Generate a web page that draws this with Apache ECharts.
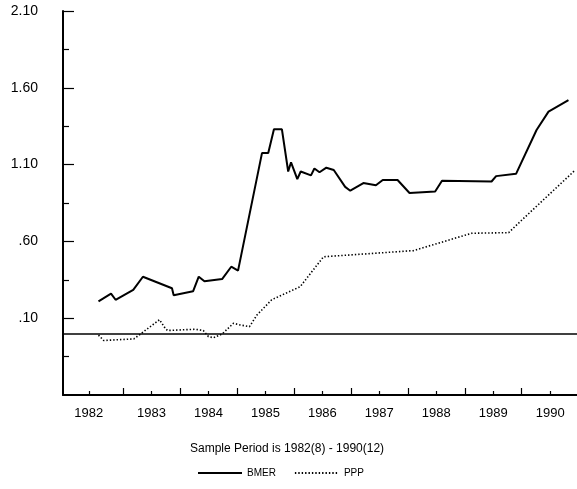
<!DOCTYPE html>
<html>
<head>
<meta charset="utf-8">
<script src="https://cdn.jsdelivr.net/npm/echarts@6/dist/echarts.min.js"></script>
<style>
  html, body { margin: 0; padding: 0; background: #fff; }
  #chart { width: 577px; height: 489px; }
</style>
</head>
<body>
<div id="chart"></div>
<script>
// BMER, decimal year / value
const bmerYears = [1982.57, 1982.79, 1982.87, 1983.18, 1983.35, 1983.86, 1983.89, 1984.23, 1984.33, 1984.43,
  1984.74, 1984.90, 1985.02, 1985.44, 1985.55, 1985.65, 1985.79, 1985.90, 1985.95, 1986.06,
  1986.12, 1986.30, 1986.36, 1986.45, 1986.57, 1986.70, 1986.90, 1986.99, 1987.22, 1987.44,
  1987.56, 1987.82, 1988.03, 1988.48, 1988.60, 1989.47, 1989.55, 1989.90, 1990.26, 1990.47, 1990.82]
const bmerValues = [0.21, 0.26, 0.22, 0.285, 0.37, 0.295, 0.25, 0.275, 0.37, 0.34,
  0.355, 0.435, 0.41, 1.175, 1.175, 1.33, 1.33, 1.055, 1.115, 1.005,
  1.055, 1.03, 1.075, 1.05, 1.08, 1.065, 0.955, 0.93, 0.98, 0.965,
  1.0, 1.0, 0.915, 0.925, 0.995, 0.99, 1.025, 1.04, 1.325, 1.445, 1.52]

// PPP
const pppYears = [1982.57, 1982.66, 1983.19, 1983.30, 1983.64, 1983.74, 1983.78, 1984.27, 1984.41, 1984.50,
  1984.59, 1984.74, 1984.94, 1985.06, 1985.22, 1985.35, 1985.61, 1986.11, 1986.52, 1988.10,
  1989.12, 1989.77, 1989.97, 1990.94]
const pppValues = [-0.01, -0.045, -0.035, -0.005, 0.09, 0.035, 0.02, 0.028, 0.02, -0.02,
  -0.027, -0.003, 0.067, 0.056, 0.045, 0.12, 0.22, 0.305, 0.5, 0.54,
  0.653, 0.657, 0.728, 1.065]

// tick positions
const yMajor = [0.1, 0.6, 1.1, 1.6, 2.1]
const yMinor = [-0.15, 0.35, 0.85, 1.35, 1.85]
const xMajor = [1983, 1984, 1985, 1986, 1987, 1988, 1989, 1990]
const xLabelPos = [1982.4, 1983.5, 1984.5, 1985.5, 1986.5, 1987.5, 1988.5, 1989.5, 1990.5]

const font = "'Liberation Sans', Arial, sans-serif"

const myChart = echarts.init(document.getElementById('chart'))

const zip = (xs, ys) => xs.map((x, i) => [x, ys[i]])

myChart.setOption({
  animation: false,
  backgroundColor: '#fff',
  grid: {
    left: 63,
    right: 0,
    top: 11,
    bottom: 94
  },
  legend: {
    left: 192,
    top: 463,
    itemWidth: 44,
    itemHeight: 10,
    itemGap: 18,
    itemStyle: { color: 'transparent', borderColor: 'transparent', borderWidth: 0 },
    textStyle: { color: '#000', fontSize: 10, fontFamily: font },
    data: ['BMER', 'PPP']
  },
  graphic: [{
    type: 'text',
    left: 190,
    top: 443,
    style: {
      text: 'Sample Period is 1982(8) - 1990(12)',
      fill: '#000',
      font: '12px ' + font
    }
  }],
  xAxis: [{
    type: 'value',
    min: 1981.947,
    max: 1990.97,
    axisLine: { show: true, onZero: false, lineStyle: { color: '#000', width: 2 } },
    axisTick: {
      show: true,
      inside: true,
      length: 7,
      customValues: xMajor,
      lineStyle: { color: '#000', width: 1.2 }
    },
    axisLabel: {
      show: true,
      margin: 12,
      color: '#000',
      fontSize: 13,
      fontFamily: font,
      customValues: xLabelPos,
      formatter: function(v) {
        return String(Math.floor(v))
      }
    },
    splitLine: { show: false }
  }, {
    type: 'value',
    min: 1981.947,
    max: 1990.97,
    position: 'bottom',
    axisLine: { show: false, onZero: false },
    axisTick: {
      show: true,
      inside: true,
      length: 4,
      customValues: xLabelPos,
      lineStyle: { color: '#000', width: 1.2 }
    },
    axisLabel: { show: false },
    splitLine: { show: false }
  }],
  yAxis: [{
    type: 'value',
    min: -0.4,
    max: 2.1,
    axisLine: { show: true, onZero: false, lineStyle: { color: '#000', width: 2 } },
    axisTick: {
      show: true,
      inside: true,
      length: 11,
      customValues: yMajor,
      lineStyle: { color: '#000', width: 1.2 }
    },
    axisLabel: {
      show: true,
      margin: 25,
      color: '#000',
      fontSize: 14,
      fontFamily: font,
      padding: [7, 0, 0, 0],
      customValues: yMajor,
      formatter: function(v) {
        return v.toFixed(2).replace(/^0/, '')
      }
    },
    splitLine: { show: false }
  }, {
    type: 'value',
    min: -0.4,
    max: 2.1,
    position: 'left',
    axisLine: { show: false, onZero: false },
    axisTick: {
      show: true,
      inside: true,
      length: 6,
      customValues: yMinor,
      lineStyle: { color: '#000', width: 1.2 }
    },
    axisLabel: { show: false },
    splitLine: { show: false }
  }],
  series: [{
    name: 'BMER',
    type: 'line',
    symbol: 'none',
    lineStyle: { color: '#000', width: 2 },
    itemStyle: { color: '#000' },
    data: zip(bmerYears, bmerValues),
    markLine: {
      silent: true,
      symbol: 'none',
      label: { show: false },
      lineStyle: { color: '#000', width: 1.5, type: 'solid' },
      data: [{ yAxis: 0 }]
    }
  }, {
    name: 'PPP',
    type: 'line',
    symbol: 'none',
    lineStyle: { color: '#000', width: 1.6, type: [1.4, 2] },
    itemStyle: { color: '#000' },
    data: zip(pppYears, pppValues)
  }]
})
</script>
</body>
</html>
